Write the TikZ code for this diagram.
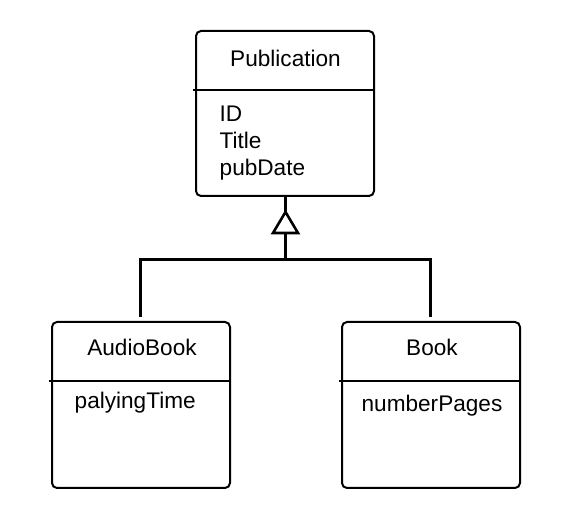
\documentclass[tikz,border=0pt]{standalone}
\usepackage{fontspec}
\setmainfont{Liberation Sans}
\begin{document}
\begin{tikzpicture}[x=1pt,y=-1pt,
 umlbox/.style={draw, line width=2pt, rounded corners=5pt, minimum width=178pt, inner sep=0pt},
 divline/.style={line width=2pt},
 conn/.style={line width=3pt},
 lbl/.style={font=\fontsize{22.6}{26}\selectfont, inner sep=0pt},
]
\useasboundingbox (0,0) rectangle (566,521);
% boxes
\node[umlbox, minimum height=165pt] (pub) at (285,113.5) {};
\node[umlbox, minimum height=166pt] (audio) at (141,405) {};
\node[umlbox, minimum height=166pt] (book) at (431,405) {};
% dividers
\draw[divline] (pub.west |- 0,90) ++(-2,0) -- (pub.east |- 0,90);
\draw[divline] (audio.west |- 0,381) ++(-2,0) -- (audio.east |- 0,381);
\draw[divline] (book.west |- 0,381) ++(-2,0) -- (book.east |- 0,381);
% texts
\node[lbl, anchor=base] (pubname) at (285.5,66.5) {Publication};
\node[lbl, anchor=base west] (aid) at (219.5,121.7) {ID};
\node[lbl, anchor=base west] (atitle) at (219.5,149) {Title};
\node[lbl, anchor=base west] (adate) at (219.5,176) {pubDate};
\node[lbl, anchor=base] (audioname) at (142,356) {AudioBook};
\node[lbl, anchor=base west] (aplay) at (74.5,409) {palyingTime};
\node[lbl, anchor=base] (bookname) at (432,355.7) {Book};
\node[lbl, anchor=base] (bpages) at (432,411.7) {numberPages};
% generalization connector
\coordinate (apex) at (285.5,212);
\coordinate (tribase) at (285.5,233);
\coordinate (junc) at (285.5,260);
\coordinate (lend) at (140,317);
\coordinate (rend) at (430,317);
\draw[conn] (pub.south -| apex) -- (apex);
\draw[line width=2.6pt, line join=miter, fill=white] (apex) -- (273,233) -- (298,233) -- cycle;
\draw[conn] (tribase) -- (junc);
\draw[conn] (lend) -- (lend |- junc) -- (rend |- junc) -- (rend);
\end{tikzpicture}
\end{document}
